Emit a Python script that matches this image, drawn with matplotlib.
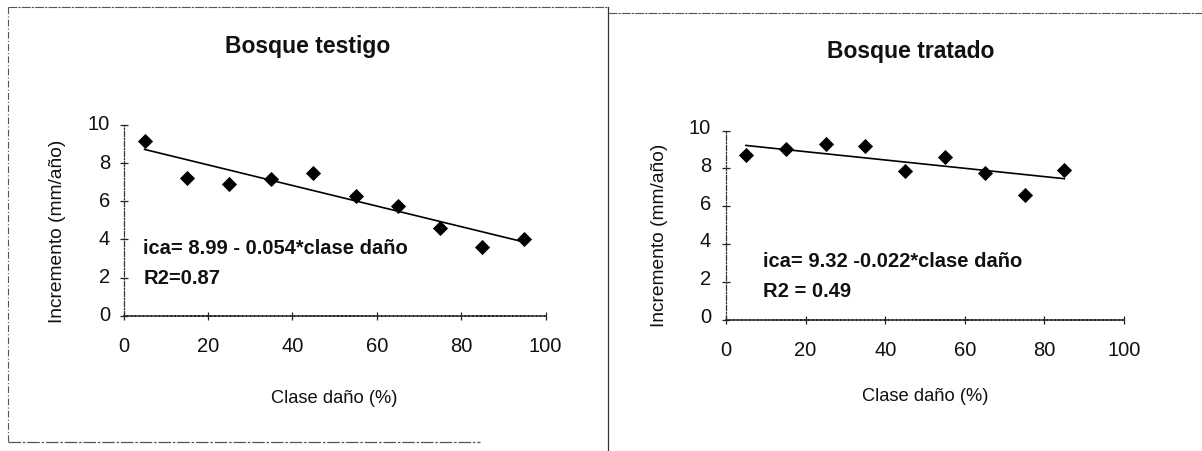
import matplotlib
matplotlib.use("Agg")
import matplotlib.pyplot as plt
import matplotlib.transforms as mtransforms
from matplotlib import font_manager
from matplotlib.lines import Line2D
import numpy as np

# ---------------- data ----------------
clase_testigo = [5, 15, 25, 35, 45, 55, 65, 75, 85, 95]
inc_testigo = [9.15, 7.24, 6.92, 7.18, 7.5, 6.27, 5.74, 4.61, 3.61, 4.01]
coef_testigo = [8.99, -0.054]   # intercept, slope

clase_tratado = [5, 15, 25, 35, 45, 55, 65, 75, 85]
inc_tratado = [8.68, 9.0, 9.26, 9.19, 7.88, 8.61, 7.77, 6.58, 7.93]
coef_tratado = [9.32, -0.022]

titles = ["Bosque testigo", "Bosque tratado"]
equations = ["ica= 8.99 - 0.054*clase daño", "ica= 9.32 -0.022*clase daño"]
r2_texts = ["R2=0.87", "R2 = 0.49"]
x_label = "Clase daño (%)"
y_label = "Incremento (mm/año)"
x_ticks = [0, 20, 40, 60, 80, 100]
y_ticks = [0, 2, 4, 6, 8, 10]

# ---------------- style ----------------
names = {f.name for f in font_manager.fontManager.ttflist}
plt.rcParams['font.family'] = ['Liberation Sans', 'DejaVu Sans']
narrow = 'Liberation Sans Narrow' in names

W, H = 1202, 452
fig = plt.figure(figsize=(W / 100, H / 100), dpi=100)


def fx(px):
    return px / W


def fy(py):
    return 1 - py / H


panels = [
    dict(x=clase_testigo, y=inc_testigo, coef=coef_testigo,
         box=(123.5, 545.5, 126.0, 316.7), title=(308, 53.3),
         ylab=(57, 231), xlab=(334, 403), eq=(4.7, 3.29, 1.71), yoff=3, ypad=6.8),
    dict(x=clase_tratado, y=inc_tratado, coef=coef_tratado,
         box=(726.0, 1124.0, 131.5, 320.5), title=(911, 58.3),
         ylab=(660, 235), xlab=(925, 401), eq=(9.4, 2.81, 1.26), yoff=5, ypad=7.8),
]

for i, p in enumerate(panels):
    x0, x1, ytop, ybot = p['box']
    ax = fig.add_axes([fx(x0), fy(ybot), fx(x1) - fx(x0), fy(ytop) - fy(ybot)])
    ax.set_xlim(0, 100)
    ax.set_ylim(0, 10)
    ax.set_xticks(x_ticks)
    ax.set_yticks(y_ticks)
    for s in ['top', 'right']:
        ax.spines[s].set_visible(False)
    ax.spines['left'].set_linestyle((0, (4, 1.5, 1, 1.5)))
    ax.spines['left'].set_color('#333333')
    ax.spines['left'].set_linewidth(0.9)
    ax.spines['bottom'].set_linestyle((0, (2, 0.6)))
    ax.spines['bottom'].set_color('#222222')
    ax.spines['bottom'].set_linewidth(1.1)
    ax.tick_params(axis='both', direction='inout', length=6, width=0.9,
                   colors='#222222', labelsize=14.5, labelcolor='#111111')
    ax.tick_params(axis='x', pad=11.5)
    ax.tick_params(axis='y', pad=p['ypad'])
    off = mtransforms.ScaledTranslation(0, p['yoff'] / 100, fig.dpi_scale_trans)
    for lab in ax.get_yticklabels():
        lab.set_transform(lab.get_transform() + off)

    # regression line
    xs = np.array([min(p['x']), max(p['x'])], dtype=float)
    ys = p['coef'][0] + p['coef'][1] * xs
    ax.plot(xs, ys, color='black', lw=1.2, zorder=2)
    # points
    ax.plot(p['x'], p['y'], linestyle='none', marker='D', ms=7.2,
            mfc='black', mec='black', mew=0.6, zorder=3, clip_on=False)

    ex, ey1, ey2 = p['eq']
    ax.text(ex, ey1, equations[i], fontsize=14.5, fontweight='bold',
            ha='left', va='baseline', color='#111111')
    ax.text(ex, ey2, r2_texts[i], fontsize=14.5, fontweight='bold',
            ha='left', va='baseline', color='#111111')

    tx, ty = p['title']
    fig.text(fx(tx), fy(ty), titles[i], fontsize=16.5, fontweight='bold',
             ha='center', va='baseline', color='#111111')
    lx, ly = p['xlab']
    if narrow:
        fig.text(fx(lx), fy(ly), x_label, fontsize=15, ha='center', va='baseline',
                 family=['Liberation Sans Narrow', 'Liberation Sans'], color='#111111')
    else:
        fig.text(fx(lx), fy(ly), x_label, fontsize=13.2, ha='center', va='baseline',
                 color='#111111')
    yx, yy = p['ylab']
    fig.text(fx(yx), fy(yy), y_label, fontsize=13.8, rotation=90,
             ha='center', va='center', color='#111111')

# panel frame lines (scanned borders)
frame = '#555555'
fig.add_artist(Line2D([fx(8), fx(8)], [fy(8), fy(443)], transform=fig.transFigure,
                      color=frame, lw=0.8, ls=(0, (6, 2, 1, 2))))
fig.add_artist(Line2D([fx(8), fx(608)], [fy(8), fy(8)], transform=fig.transFigure,
                      color=frame, lw=0.8, ls=(0, (8, 1, 2, 1))))
fig.add_artist(Line2D([fx(8), fx(480)], [fy(443), fy(443)], transform=fig.transFigure,
                      color=frame, lw=0.9, ls=(0, (10, 1.5, 2, 1.5))))
fig.add_artist(Line2D([fx(608), fx(608)], [fy(8), fy(452)], transform=fig.transFigure,
                      color='#333333', lw=0.9))
fig.add_artist(Line2D([fx(608), fx(1202)], [fy(14), fy(14)], transform=fig.transFigure,
                      color=frame, lw=0.8, ls=(0, (8, 1, 2, 1))))

fig.savefig('out.png', dpi=100, facecolor='white')
